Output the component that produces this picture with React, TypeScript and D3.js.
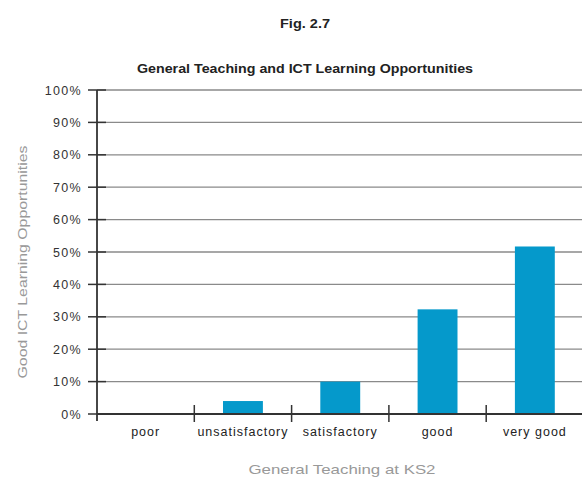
import React from "react";
import * as d3 from "d3";

const categories = ["poor", "unsatisfactory", "satisfactory", "good", "very good"];
const values = [0, 4, 10, 32.3, 51.7];
const yTicks = [0, 10, 20, 30, 40, 50, 60, 70, 80, 90, 100];

const W = 582;
const H = 477;
const margin = { left: 97, right: -1.5, top: 90, bottom: 63 };

export default function App() {
  const x = d3
    .scaleBand<string>()
    .domain(categories)
    .range([margin.left, W - margin.right])
    .paddingInner(0.59)
    .paddingOuter(0.295);
  const xEdge = d3
    .scaleLinear()
    .domain([0, categories.length])
    .range([margin.left, W - margin.right]);
  const y = d3.scaleLinear().domain([0, 100]).range([H - margin.bottom, margin.top]);
  const font = "'Liberation Sans', Arial, Helvetica, sans-serif";
  return (
    <svg
      width={W}
      height={H}
      style={{ position: "absolute", left: 0, top: 0, background: "#fff" }}
      fontFamily={font}
    >
      <text
        x={305}
        y={28}
        textAnchor="middle"
        fontSize={12.5}
        fontWeight="bold"
        fill="#222"
        textLength={50}
        lengthAdjust="spacingAndGlyphs"
      >
        Fig. 2.7
      </text>
      <text
        x={305}
        y={73}
        textAnchor="middle"
        fontSize={12.5}
        fontWeight="bold"
        fill="#222"
        textLength={336}
        lengthAdjust="spacingAndGlyphs"
      >
        General Teaching and ICT Learning Opportunities
      </text>
      {yTicks.map((t) => (
        <g key={t}>
          {t > 0 && (
            <line x1={margin.left} x2={W} y1={y(t)} y2={y(t)} stroke="#8a8a8a" strokeWidth={1.3} />
          )}
          <line x1={88} x2={106} y1={y(t)} y2={y(t)} stroke="#333" strokeWidth={1.5} />
          <text
            x={82}
            y={y(t) + 4.5}
            textAnchor="end"
            fontSize={12.5}
            letterSpacing={1.3}
            fill="#333"
          >
            {t}%
          </text>
        </g>
      ))}
      {categories.map((c, i) => (
        <rect
          key={c}
          x={x(c)}
          y={y(values[i])}
          width={x.bandwidth()}
          height={y(0) - y(values[i])}
          fill="#0599cb"
        />
      ))}
      <line x1={margin.left} x2={margin.left} y1={y(100)} y2={y(0) + 7} stroke="#333" strokeWidth={1.8} />
      <line x1={margin.left} x2={W} y1={y(0)} y2={y(0)} stroke="#333" strokeWidth={1.8} />
      {d3.range(1, categories.length + 1).map((i) => (
        <line
          key={i}
          x1={xEdge(i)}
          x2={xEdge(i)}
          y1={y(0) - 9}
          y2={y(0) + 8}
          stroke="#333"
          strokeWidth={1.5}
        />
      ))}
      {categories.map((c) => (
        <text
          key={c}
          x={(x(c) as number) + x.bandwidth() / 2}
          y={436}
          textAnchor="middle"
          fontSize={12.5}
          letterSpacing={1}
          fill="#222"
        >
          {c}
        </text>
      ))}
      <text
        x={342}
        y={474}
        textAnchor="middle"
        fontSize={13.5}
        fill="#999"
        textLength={187}
        lengthAdjust="spacingAndGlyphs"
      >
        General Teaching at KS2
      </text>
      <text
        transform={`translate(27, 262) rotate(-90)`}
        textAnchor="middle"
        fontSize={13}
        fill="#999"
        textLength={233}
        lengthAdjust="spacingAndGlyphs"
      >
        Good ICT Learning Opportunities
      </text>
    </svg>
  );
}
